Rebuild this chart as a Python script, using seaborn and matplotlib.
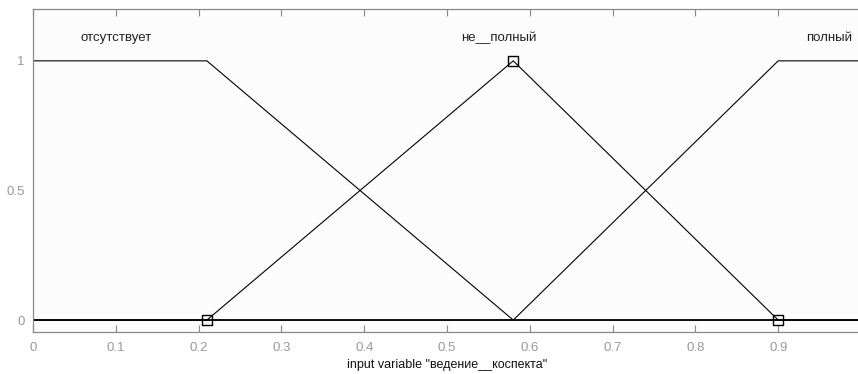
import numpy as np
import pandas as pd
import matplotlib
matplotlib.use('Agg')
import matplotlib.pyplot as plt
import seaborn as sns

sns.set_style('white')
plt.rcParams['font.family'] = ['Liberation Sans', 'DejaVu Sans']

# функции принадлежности
mf_names = ['отсутствует', 'не__полный', 'полный']
mf_x = [[0.0, 0.21, 0.58, 1.0],
        [0.0, 0.21, 0.58, 0.9, 1.0],
        [0.0, 0.58, 0.9, 1.0]]
mf_y = [[1, 1, 0, 0],
        [0, 0, 1, 0, 0],
        [0, 0, 1, 1]]
label_x = [0.1, 0.563, 0.962]
marker_x = [0.21, 0.58, 0.9]
marker_y = [0, 1, 0]
xticks = [0, 0.1, 0.2, 0.3, 0.4, 0.5, 0.6, 0.7, 0.8, 0.9]
yticks = [0, 0.5, 1]

rows = []
for name, xs, ys in zip(mf_names, mf_x, mf_y):
    for x, y in zip(xs, ys):
        rows.append({'mf': name, 'x': x, 'y': y})
df = pd.DataFrame(rows)

fig = plt.figure(figsize=(8.58, 3.74), dpi=100)
ax = fig.add_axes([33 / 858, 42 / 374, 828 / 858, 323 / 374])
ax.set_facecolor('#fcfcfc')

sns.lineplot(data=df, x='x', y='y', units='mf', estimator=None, color='black',
             linewidth=0.8, ax=ax, legend=False)
ax.axhline(0, color='black', linewidth=1.2)
sns.scatterplot(x=marker_x, y=marker_y, marker='s', s=55, facecolor='none',
                edgecolor='black', linewidth=1.0, ax=ax, zorder=5)

for name, lx in zip(mf_names, label_x):
    ax.text(lx, 1.09, name, ha='center', va='center', fontsize=9.5, color='#222222')

ax.set_xlim(0, 1)
ax.set_ylim(-0.046, 1.2)
ax.set_xticks(xticks)
ax.set_xticklabels([f'{t:g}' for t in xticks])
ax.set_yticks(yticks)
ax.set_yticklabels([f'{t:g}' for t in yticks])
ax.tick_params(axis='x', direction='in', length=5, width=0.8, colors='#888888',
               labelsize=9.5, top=True, bottom=True, labelcolor='#999999', pad=7)
ax.tick_params(axis='y', direction='in', length=5, width=0.8, colors='#888888',
               labelsize=9.5, labelcolor='#999999', pad=6)
for side in ['left', 'top', 'bottom', 'right']:
    ax.spines[side].set_color('#888888')
    ax.spines[side].set_linewidth(0.9)
ax.set_xlabel('input variable "ведение__коспекта"', fontsize=9, color='#111111',
              labelpad=4)
ax.set_ylabel('')

plt.savefig('out.png', dpi=100)
